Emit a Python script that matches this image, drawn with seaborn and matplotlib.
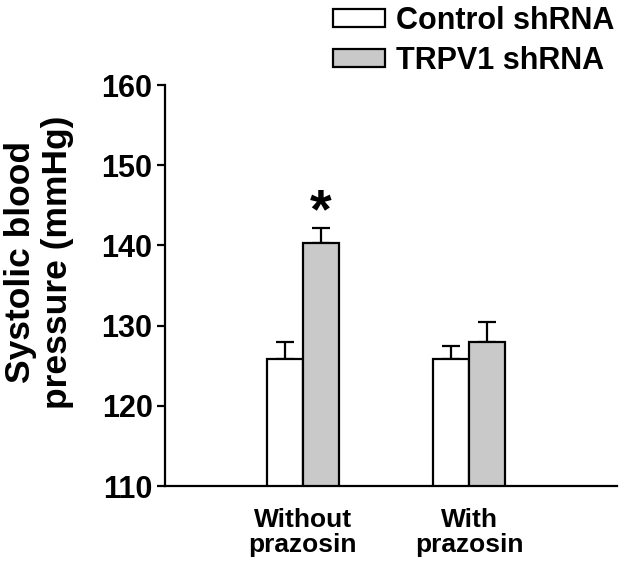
import pandas as pd
import matplotlib
matplotlib.use("Agg")
import matplotlib.pyplot as plt
import seaborn as sns

# values
groups = ["Without\nprazosin", "With\nprazosin"]
treatments = ["Control shRNA", "TRPV1 shRNA"]
control_mean = [125.8, 125.8]
control_sem = [2.2, 1.7]
trpv1_mean = [140.3, 128.0]
trpv1_sem = [1.9, 2.5]
bar_colors = ["white", "#c9c9c9"]

df = pd.DataFrame({
    "group": groups * 2,
    "treatment": [treatments[0]] * 2 + [treatments[1]] * 2,
    "sbp": control_mean + trpv1_mean,
})
sems = [control_sem, trpv1_sem]

sns.set_style("ticks")
plt.rcParams["font.family"] = ["Liberation Sans", "DejaVu Sans"]
plt.rcParams["font.weight"] = "bold"
plt.rcParams["text.color"] = "black"
plt.rcParams["axes.edgecolor"] = "black"
plt.rcParams["xtick.color"] = "black"
plt.rcParams["ytick.color"] = "black"
plt.rcParams["xtick.labelcolor"] = "black"
plt.rcParams["ytick.labelcolor"] = "black"

fig = plt.figure(figsize=(6.24, 5.65), dpi=100)
ax = fig.add_axes([165 / 624, 79 / 565, 452 / 624, 401 / 565])

sns.barplot(data=df, x="group", y="sbp", hue="treatment", hue_order=treatments,
            order=groups, palette=bar_colors, edgecolor="black", linewidth=1.6,
            width=0.432, errorbar=None, ax=ax, zorder=2)

# upper-only error bars
for cont, err in zip(ax.containers, sems):
    xs = [p.get_x() + p.get_width() / 2 for p in cont.patches]
    ys = [p.get_height() for p in cont.patches]
    ax.errorbar(xs, ys, yerr=[[0] * len(err), err], fmt="none", ecolor="black",
                elinewidth=1.6, capsize=6.8, capthick=1.6, zorder=1)

# significance mark over TRPV1 without prazosin
star_bar = ax.containers[1].patches[0]
ax.text(star_bar.get_x() + star_bar.get_width() / 2, 142.3, "*", ha="center",
        va="baseline", fontsize=40, fontweight="bold", color="black")

ax.set_ylim(110, 160)
ax.set_yticks([110, 120, 130, 140, 150, 160])
ax.set_xlim(-0.826, 1.886)
ax.set_xlabel("")
ax.set_ylabel("")
sns.despine(ax=ax)
for s in ["left", "bottom"]:
    ax.spines[s].set_linewidth(1.6)
    ax.spines[s].set_color("black")
ax.tick_params(axis="y", length=6, width=1.6, labelsize=22, pad=3, colors="black")
ax.tick_params(axis="x", length=0, labelsize=19, pad=16, colors="black")
for lab in ax.get_xticklabels() + ax.get_yticklabels():
    lab.set_fontweight("bold")
for lab in ax.get_xticklabels():
    lab.set_linespacing(1.05)

fig.text(39 / 624, 1 - 262 / 565, "Systolic blood\npressure (mmHg)", rotation=90,
         ha="center", va="center", fontsize=25.5, fontweight="bold", linespacing=1.15,
         color="black")

handles, labels = ax.get_legend_handles_labels()
ax.legend_.remove()
leg = fig.legend(handles, labels, loc="upper left", bbox_to_anchor=(333 / 624, 1 - 6 / 565),
                 frameon=False, prop={"weight": "bold", "size": 22},
                 handlelength=1.7, handleheight=0.55, handletextpad=0.35,
                 labelspacing=0.32, borderpad=0, borderaxespad=0)
for t in leg.get_texts():
    t.set_color("black")

fig.savefig("out.png", dpi=100)
